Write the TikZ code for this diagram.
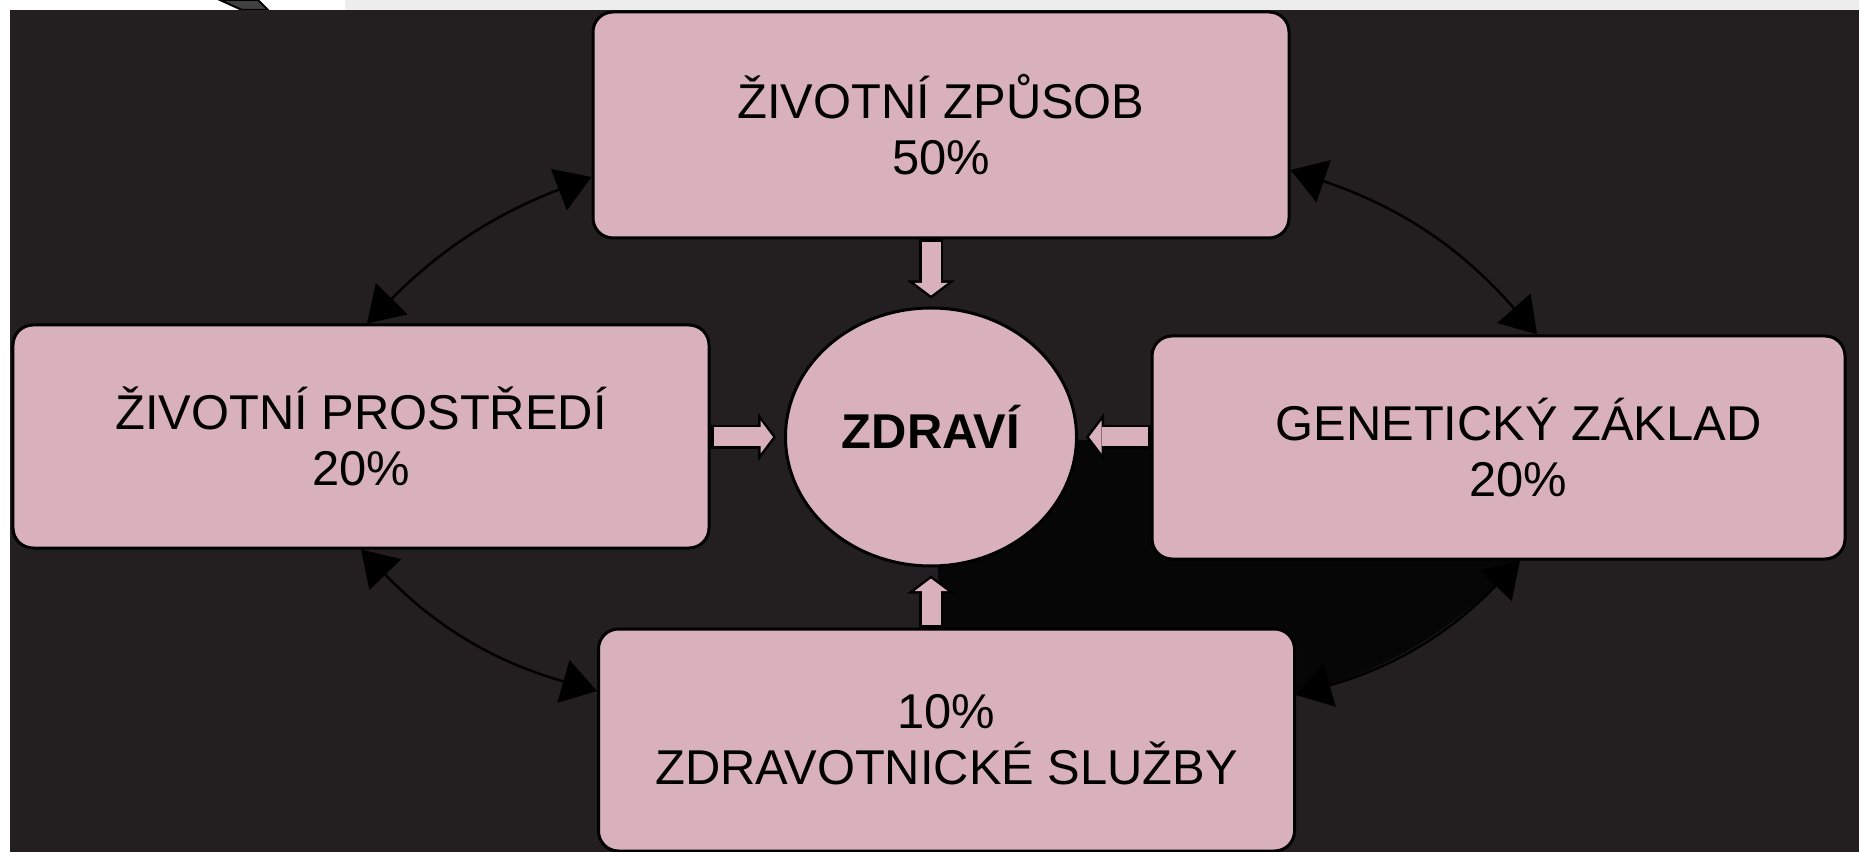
\documentclass[tikz,border=0pt]{standalone}
\usepackage{fontspec}
\setmainfont{Liberation Sans}
\usetikzlibrary{arrows.meta,shapes.geometric,backgrounds}

\definecolor{boxpink}{RGB}{216,177,189}
\definecolor{slidebg}{RGB}{35,31,32}
\definecolor{shadowblk}{RGB}{6,6,6}
\definecolor{stripgray}{RGB}{237,237,237}

\tikzset{
  factor/.style={draw=black, line width=0.3mm, fill=boxpink, rounded corners=2mm, minimum width=6.96cm, minimum height=2.23cm, align=center, inner sep=0pt, font=\fontsize{13.9}{16}\selectfont},
  core/.style={ellipse, draw=black, line width=0.3mm, fill=boxpink, minimum width=2.91cm, minimum height=2.58cm, inner sep=0pt, text depth=2mm, font=\fontsize{13.9}{16}\selectfont\bfseries},
  link/.style={line width=0.25mm, <->, >={Triangle[length=3.5mm,width=4.4mm]}},
  fatout/.style={line width=2.4mm, draw=black, ->, >={Triangle[width=4.8mm,length=1.8mm,line width=0pt]}, shorten >=0.8mm},
  fatin/.style={line width=1.9mm, draw=boxpink, ->, >={Triangle[width=3.3mm,length=1.24mm,line width=0pt]}, shorten >=1.11mm, shorten <=0.3mm}
}

\begin{document}
\begin{tikzpicture}
\useasboundingbox (0,0) rectangle (18.59,-8.52);
\node[factor, minimum height=2.26cm] (zpusob) at (9.41,-1.25) {ŽIVOTNÍ ZPŮSOB\\50\%};
\node[factor] (prostredi) at (3.61,-4.365) {ŽIVOTNÍ PROSTŘEDÍ\\20\%};
\node[factor, minimum width=6.93cm] (zaklad) at (14.985,-4.475) {\hspace*{4mm}GENETICKÝ ZÁKLAD\\\hspace*{4mm}20\%};
\node[factor, minimum height=2.22cm] (sluzby) at (9.465,-7.40) {10\%\\ZDRAVOTNICKÉ SLUŽBY};
\node[core] (zd) at (9.31,-4.37) {ZDRAVÍ};

% slide behind the diagram
\begin{scope}[on background layer]
\fill[white] (0,0) rectangle (18.59,-8.52);
\fill[stripgray] (3.45,0) rectangle (18.59,-0.1);
\filldraw[fill=darkgray, draw=black, line width=0.2mm] (2.2,0) -- (2.58,0) -- (2.68,-0.1) -- (2.42,-0.1) -- cycle;
\fill[slidebg] (0.1,-0.1) rectangle (18.59,-8.52);
\fill[shadowblk] ([xshift=2.15mm]zaklad.south) to[bend left=15] ([yshift=4.5mm]sluzby.east) -- (sluzby.center) -- (zd.center) -- (zaklad.center) -- cycle;
\end{scope}

% feedback between the factors
\draw[link] ([xshift=.6mm]prostredi.north) to[bend left=12] ([yshift=-5.2mm]zpusob.west);
\draw[link] ([yshift=-4.5mm]zpusob.east) to[bend left=15] ([xshift=3.85mm]zaklad.north);
\draw[link] ([xshift=2.15mm]zaklad.south) to[bend left=15] ([yshift=4.5mm]sluzby.east);
\draw[link] ([yshift=4.9mm]sluzby.west) to[bend left=15] (prostredi.south);

% block arrows into the centre
\draw[fatout] (zd.north |- zpusob.south) -- (zd.north);
\draw[fatin] (zd.north |- zpusob.south) -- (zd.north);
\draw[fatout] (prostredi.east |- zd.west) -- (zd.west);
\draw[fatin] (prostredi.east |- zd.west) -- (zd.west);
\draw[fatout] (zaklad.west |- zd.east) -- (zd.east);
\draw[fatin] (zaklad.west |- zd.east) -- (zd.east);
\draw[fatout] (zd.south |- sluzby.north) -- (zd.south);
\draw[fatin] (zd.south |- sluzby.north) -- (zd.south);
\end{tikzpicture}
\end{document}
